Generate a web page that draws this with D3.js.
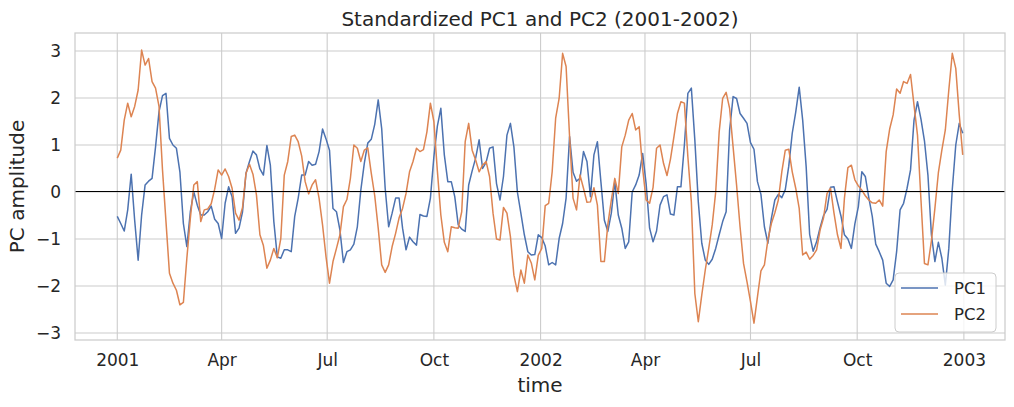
<!DOCTYPE html>
<html>
<head>
<meta charset="utf-8">
<script src="https://cdn.jsdelivr.net/npm/d3@7"></script>
<style>
body { margin: 0; background: #fff; }
text { font-family: "DejaVu Sans", sans-serif; fill: #262626; }
</style>
</head>
<body>
<div id="my_dataviz"></div>
<script>
// one value every 3 days, starting 2001-01-01
var stepDays = 3;
var seriesNames = ["PC1", "PC2"];
var seriesColors = ["#4c72b0", "#dd8452"];
var yTicks = [-3, -2, -1, 0, 1, 2, 3];

var pc1 = [
  -0.52,-0.67,-0.83,-0.38,0.38,-0.60,-1.45,-0.49,0.15,0.23,
  0.29,0.96,1.71,2.05,2.10,1.14,1.00,0.93,0.43,-0.67,
  -1.16,-0.42,0.00,-0.28,-0.49,-0.49,-0.42,-0.30,-0.58,-0.67,
  -0.99,-0.24,0.11,-0.10,-0.88,-0.77,-0.42,0.40,0.65,0.87,
  0.79,0.49,0.36,0.99,0.57,-0.63,-1.38,-1.41,-1.23,-1.23,
  -1.27,-0.52,-0.13,0.36,0.36,0.65,0.57,0.59,0.86,1.34,
  1.13,0.89,-0.35,-0.42,-0.81,-1.50,-1.27,-1.23,-1.11,-0.74,
  0.04,0.61,1.04,1.12,1.44,1.96,1.35,0.08,-0.74,-0.45,
  -0.13,-0.13,-0.77,-1.23,-0.96,-1.06,-1.13,-0.48,-0.51,-0.52,
  -0.13,0.75,1.40,1.78,0.79,0.22,0.22,-0.10,-0.70,-0.79,
  -0.84,0.15,0.45,0.72,1.11,0.50,0.63,0.93,0.96,0.18,
  -0.17,0.33,1.21,1.46,0.96,0.00,-0.45,-0.91,-1.27,-1.34,
  -1.33,-0.91,-0.97,-1.15,-1.55,-1.50,-1.55,-0.99,-0.67,-0.13,
  1.18,0.42,0.23,0.29,0.86,0.65,-0.10,0.79,1.07,0.22,
  -0.60,-0.84,-0.45,0.22,-0.49,-0.77,-1.20,-1.06,0.00,0.15,
  0.36,0.82,0.18,-0.77,-1.06,-0.83,-0.28,-0.10,-0.06,-0.47,
  -0.49,0.11,0.11,1.00,2.10,2.21,1.11,-0.21,-1.09,-1.45,
  -1.54,-1.43,-1.20,-0.91,-0.63,-0.42,1.32,2.03,1.99,1.67,
  1.57,1.46,1.05,0.91,0.22,-0.05,-0.74,-1.09,-0.56,-0.17,
  -0.05,-0.12,0.05,0.55,1.25,1.70,2.23,1.53,0.54,-0.90,
  -1.26,-1.06,-0.76,-0.50,-0.37,0.10,0.11,-0.21,-0.51,-0.91,
  -1.00,-1.20,-0.68,-0.31,0.43,0.33,-0.12,-0.52,-1.11,-1.27,
  -1.45,-1.94,-2.01,-1.87,-1.27,-0.38,-0.24,0.08,0.47,1.53,
  1.92,1.55,1.09,0.36,-0.91,-1.48,-1.07,-1.41,-1.98,-1.20,
  0.06,1.00,1.46,1.25
];

var pc2 = [
  0.72,0.89,1.53,1.89,1.60,1.82,2.17,3.02,2.70,2.84,
  2.35,2.21,1.82,0.47,-0.63,-1.73,-1.94,-2.09,-2.40,-2.35,
  -1.41,-0.56,0.15,0.22,-0.63,-0.38,-0.36,-0.25,0.06,0.47,
  0.36,0.49,0.33,0.08,-0.45,-0.60,-0.33,0.40,0.59,0.38,
  -0.06,-0.91,-1.14,-1.62,-1.45,-1.20,-1.40,-0.99,0.36,0.65,
  1.18,1.21,1.07,0.77,0.22,-0.04,0.15,0.26,-0.13,-0.70,
  -1.38,-1.94,-1.48,-1.20,-0.91,-0.31,-0.16,0.29,1.00,0.93,
  0.65,0.89,0.94,0.40,-0.08,-0.77,-1.55,-1.71,-1.55,-1.16,
  -0.88,-0.55,-0.35,-0.03,0.43,0.65,0.93,0.86,0.90,1.28,
  1.89,1.50,0.45,-0.49,-1.07,-1.27,-0.74,-0.76,-0.77,-0.42,
  1.07,1.46,0.89,0.68,0.43,0.57,0.65,0.33,-0.45,-1.00,
  -1.02,-0.33,-0.45,-0.95,-1.77,-2.12,-1.66,-1.94,-1.34,-1.51,
  -1.87,-1.35,-1.20,-0.29,-0.24,0.43,1.57,1.99,2.95,2.67,
  1.18,-0.13,-0.38,0.36,0.08,-0.22,-0.21,0.09,-0.28,-1.48,
  -1.48,-0.69,-0.17,0.29,-0.03,0.96,1.21,1.53,1.67,1.32,
  1.39,0.50,-0.17,-0.24,0.10,0.93,1.00,0.61,0.35,0.70,
  1.18,1.67,1.92,1.89,0.75,-0.21,-2.16,-2.76,-2.19,-1.66,
  -1.20,-0.70,0.00,1.28,1.99,2.12,1.78,0.96,0.15,-0.74,
  -1.52,-1.91,-2.33,-2.79,-2.23,-1.68,-1.55,-1.02,-0.67,-0.44,
  -0.17,0.43,0.89,0.91,0.43,0.08,-0.35,-1.34,-1.28,-1.43,
  -1.35,-1.23,-0.81,-0.55,-0.03,0.08,-0.45,-0.91,-1.20,-0.13,
  0.52,0.57,0.26,0.13,0.04,-0.08,-0.17,-0.23,-0.24,-0.17,
  -0.30,0.86,1.34,1.64,2.19,2.10,2.35,2.31,2.50,1.85,
  1.21,-0.17,-1.52,-1.55,-1.04,-0.35,0.41,0.89,1.32,2.17,
  2.95,2.63,1.64,0.79
];

var margin = {top: 33, right: 9, bottom: 67, left: 75},
    width = 1014 - margin.left - margin.right,
    height = 407 - margin.top - margin.bottom;

var svg = d3.select("#my_dataviz")
  .append("svg")
    .attr("width", width + margin.left + margin.right)
    .attr("height", height + margin.top + margin.bottom)
  .append("g")
    .attr("transform", "translate(" + margin.left + "," + margin.top + ")");

var start = new Date(Date.UTC(2001, 0, 1));
var dates = pc1.map(function(v, i) { return d3.utcDay.offset(start, i * stepDays); });
var first = dates[0], last = dates[dates.length - 1];
var pad = (last - first) * 0.05;

var x = d3.scaleUtc()
  .domain([new Date(+first - pad), new Date(+last + pad)])
  .range([0, width]);

var y = d3.scaleLinear()
  .domain([-3.149, 3.383])
  .range([height, 0]);

var xTicks = d3.utcMonth.every(3).range(new Date(Date.UTC(2001, 0, 1)), new Date(Date.UTC(2003, 0, 2)));
var fmt = function(d) { return d.getUTCMonth() === 0 ? d3.utcFormat("%Y")(d) : d3.utcFormat("%b")(d); };

// grid
svg.append("g")
  .selectAll("line.vg")
  .data(xTicks)
  .enter()
  .append("line")
    .attr("x1", function(d) { return x(d); })
    .attr("x2", function(d) { return x(d); })
    .attr("y1", 0).attr("y2", height)
    .style("stroke", "#cccccc").style("stroke-width", 1.1);

svg.append("g")
  .selectAll("line.hg")
  .data(yTicks)
  .enter()
  .append("line")
    .attr("x1", 0).attr("x2", width)
    .attr("y1", function(d) { return y(d); })
    .attr("y2", function(d) { return y(d); })
    .style("stroke", "#cccccc").style("stroke-width", 1.1);

// axes (labels only, seaborn style has no tick marks)
var xAxis = svg.append("g")
  .attr("transform", "translate(0," + height + ")")
  .call(d3.axisBottom(x).tickValues(xTicks).tickFormat(fmt).tickSize(0).tickPadding(14));
xAxis.select(".domain").remove();
xAxis.selectAll("text").style("font-size", "17px").style("fill", "#262626");

var yAxis = svg.append("g")
  .call(d3.axisLeft(y).tickValues(yTicks).tickFormat(d3.format("d")).tickSize(0).tickPadding(14));
yAxis.select(".domain").remove();
yAxis.selectAll("text").style("font-size", "17px").style("fill", "#262626");

// lines
var series = [pc1, pc2];
var line = d3.line()
  .x(function(d, i) { return x(dates[i]); })
  .y(function(d) { return y(d); });

series.forEach(function(s, k) {
  svg.append("path")
    .datum(s)
    .attr("d", line)
    .style("fill", "none")
    .style("stroke", seriesColors[k])
    .style("stroke-width", 1.5)
    .style("stroke-linejoin", "round");
});

// zero line
svg.append("line")
  .attr("x1", 0).attr("x2", width)
  .attr("y1", y(0)).attr("y2", y(0))
  .style("stroke", "#000").style("stroke-width", 1)
  .style("shape-rendering", "crispEdges");

// frame
svg.append("rect")
  .attr("width", width).attr("height", height)
  .style("fill", "none").style("stroke", "#cccccc").style("stroke-width", 1.25);

// title and axis labels
svg.append("text")
  .attr("x", width / 2).attr("y", -7)
  .attr("text-anchor", "middle")
  .style("font-size", "20px")
  .text("Standardized PC1 and PC2 (2001-2002)");

svg.append("text")
  .attr("x", width / 2).attr("y", height + 52)
  .attr("text-anchor", "middle")
  .style("font-size", "20px")
  .text("time");

svg.append("text")
  .attr("transform", "translate(" + (-51) + "," + (height / 2) + ") rotate(-90)")
  .attr("text-anchor", "middle")
  .style("font-size", "20px")
  .text("PC amplitude");

// legend
var lg = svg.append("g")
  .attr("transform", "translate(" + (width - 110) + "," + (height - 67) + ")");
lg.append("rect")
  .attr("width", 101).attr("height", 59)
  .attr("rx", 4)
  .style("fill", "#fff").style("fill-opacity", 0.8)
  .style("stroke", "#cccccc");
seriesNames.forEach(function(n, k) {
  var yy = 15 + k * 26;
  lg.append("line")
    .attr("x1", 6).attr("x2", 43)
    .attr("y1", yy).attr("y2", yy)
    .style("stroke", seriesColors[k]).style("stroke-width", 1.5);
  lg.append("text")
    .attr("x", 59).attr("y", yy)
    .attr("dy", "0.35em")
    .style("font-size", "16.5px")
    .text(n);
});
</script>
</body>
</html>
